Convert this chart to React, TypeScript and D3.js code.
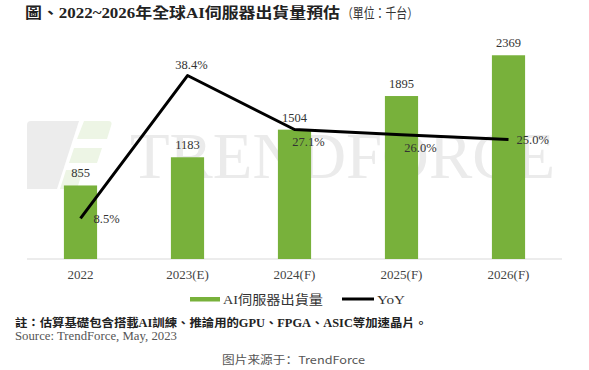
import * as d3 from 'd3';

// Values (千台)
const years = ['2022', '2023(E)', '2024(F)', '2025(F)', '2026(F)'];
const shipments = [855, 1183, 1504, 1895, 2369];
const yoy = [8.5, 38.4, 27.1, 26.0, 25.0];
const yoyLabels = ['8.5%', '38.4%', '27.1%', '26.0%', '25.0%'];

const W = 589;
const H = 370;
const serif = "'Liberation Serif', 'Times New Roman', 'Noto Sans CJK TC', serif";
const cjkSerif = "'Liberation Serif', 'Noto Sans CJK TC', serif";
const GREEN = '#78b13b';

// how each YoY label sits next to its point (Excel-style, nudged by hand)
const yoyLabelOffsets: [number, number, string][] = [
  [13, 0, 'start'],
  [4, -11, 'middle'],
  [14, 12, 'middle'],
  [19, 13, 'middle'],
  [8, 0, 'start'],
];

export default function App() {
  const plot = { left: 27, right: 562, top: 44, bottom: 259 };

  const x = d3
    .scaleBand<string>()
    .domain(years)
    .range([plot.left, plot.right])
    .paddingInner(0.69)
    .paddingOuter(0.345);
  const y = d3.scaleLinear().domain([0, 2500]).range([plot.bottom, plot.top]);
  const y2 = d3.scaleLinear().domain([0, 45]).range([plot.bottom, plot.top]);

  const cx = (i: number) => (x(years[i]) ?? 0) + x.bandwidth() / 2;

  const line = d3
    .line<number>()
    .x((_, i) => cx(i))
    .y((d) => y2(d));

  return (
    <svg
      width={W}
      height={H}
      style={{ position: 'absolute', left: 0, top: 0, background: '#fff' }}
    >
      <rect width={W} height={H} fill="#fff" />

      {/* title */}
      <text x={25} y={18} fontSize={14.5} fontWeight="bold" fontFamily={cjkSerif} fill="#222" textLength={315} lengthAdjust="spacingAndGlyphs">
        圖、2022~2026年全球AI伺服器出貨量預估
      </text>
      <text x={342} y={18} fontSize={13.5} fontFamily={cjkSerif} fill="#333" textLength={76} lengthAdjust="spacingAndGlyphs">
        （單位：千台）
      </text>

      {/* watermark */}
      <g>
        <path d="M31,121 L79,121 L57,189 L27,189 L27,125 Q27,121 31,121 Z" fill="#ececec" />
        <path d="M84,121 L108,121 Q113,121 111,126 L107,139 L77,139 Z" fill="#edf5e5" />
        <path d="M74,148 L102,148 L97,163 L69,163 Z" fill="#edf5e5" />
        <path d="M66,170 L83,170 L77,189 L60,189 Z" fill="#edf5e5" />
        <text x={130} y={178} fontSize={66} fontFamily={serif} fill="#ebebeb" textLength={425} lengthAdjust="spacingAndGlyphs">
          TRENDFORCE
        </text>
      </g>

      {/* baseline */}
      <line x1={plot.left} x2={plot.right} y1={plot.bottom} y2={plot.bottom} stroke="#d9d9d9" strokeWidth={1} />

      {/* bars */}
      {shipments.map((v, i) => (
        <rect
          key={years[i]}
          x={x(years[i])}
          y={y(v)}
          width={x.bandwidth()}
          height={plot.bottom - y(v)}
          fill={GREEN}
        />
      ))}

      {/* bar value labels */}
      {shipments.map((v, i) => (
        <text key={`bl-${i}`} x={cx(i)} y={y(v) - 8} textAnchor="middle" fontSize={12.5} fontFamily={serif} fill="#333">
          {v}
        </text>
      ))}

      {/* YoY line */}
      <path d={line(yoy) ?? undefined} fill="none" stroke="#000" strokeWidth={3} strokeLinejoin="round" />

      {yoy.map((v, i) => {
        const [dx, dy, anchor] = yoyLabelOffsets[i];
        return (
          <text
            key={`yl-${i}`}
            x={cx(i) + dx}
            y={y2(v) + dy}
            dy="0.35em"
            textAnchor={anchor}
            fontSize={12.5}
            fontFamily={serif}
            fill="#333"
          >
            {yoyLabels[i]}
          </text>
        );
      })}

      {/* x axis labels */}
      {years.map((c, i) => (
        <text key={c} x={cx(i)} y={274} dy="0.35em" textAnchor="middle" fontSize={13} fontFamily={serif} fill="#444">
          {c}
        </text>
      ))}

      {/* legend */}
      <rect x={190} y={297} width={30} height={4.5} fill={GREEN} />
      <text x={223} y={299} dy="0.35em" fontSize={13} fontFamily={cjkSerif} fill="#333" textLength={100} lengthAdjust="spacingAndGlyphs">
        AI伺服器出貨量
      </text>
      <line x1={342} x2={374} y1={299} y2={299} stroke="#000" strokeWidth={3} />
      <text x={377} y={299} dy="0.35em" fontSize={13} fontFamily={serif} fill="#333" textLength={28} lengthAdjust="spacingAndGlyphs">
        YoY
      </text>

      {/* notes */}
      <text x={15} y={323} dy="0.35em" fontSize={11.5} fontWeight="bold" fontFamily={cjkSerif} fill="#222" textLength={412} lengthAdjust="spacingAndGlyphs">
        註：估算基礎包含搭載AI訓練、推論用的GPU、FPGA、ASIC等加速晶片。
      </text>
      <text x={15} y={336} dy="0.35em" fontSize={12} fontFamily={serif} fill="#555" textLength={162} lengthAdjust="spacingAndGlyphs">
        Source: TrendForce, May, 2023
      </text>

      {/* footer */}
      <text x={222} y={360} dy="0.35em" fontSize={11} fontFamily="'Noto Sans CJK SC', 'Noto Sans', sans-serif" fill="#555" textLength={143} lengthAdjust="spacingAndGlyphs">
        图片来源于：TrendForce
      </text>
    </svg>
  );
}
